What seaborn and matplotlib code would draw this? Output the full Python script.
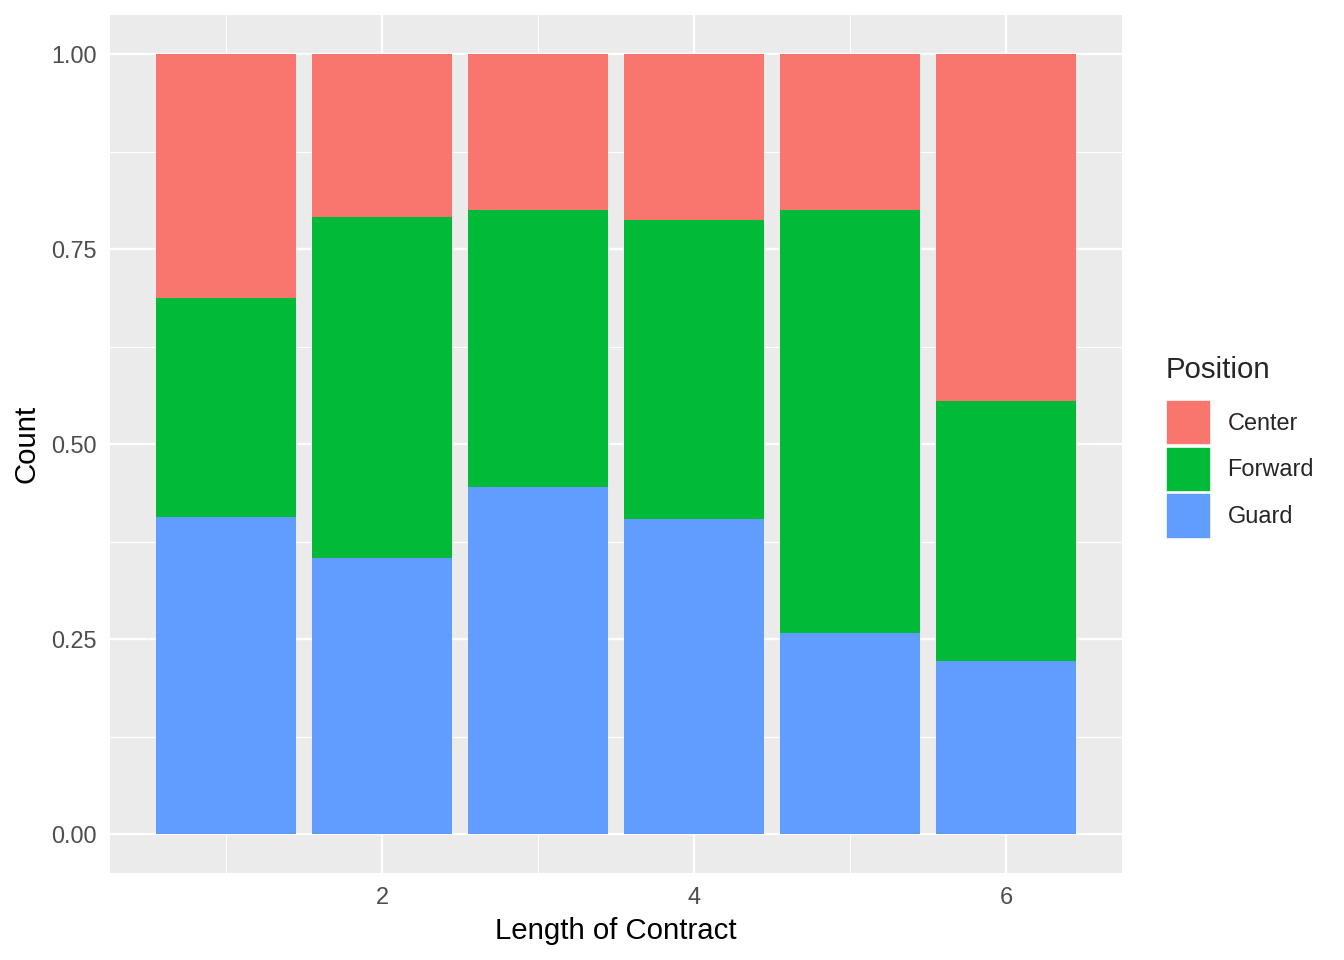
import matplotlib
matplotlib.use("Agg")
import matplotlib.pyplot as plt
import numpy as np
import pandas as pd
import seaborn as sns
from matplotlib.patches import Patch

# contract length (years) and player counts per position
years = [1, 2, 3, 4, 5, 6]
positions = ["Center", "Forward", "Guard"]
center = [10, 10, 9, 10, 7, 4]
forward = [9, 21, 16, 18, 19, 3]
guard = [13, 17, 20, 19, 9, 2]
colors = ["#F8766D", "#00BA38", "#619CFF"]

rows = []
for pos, vals in zip(positions, [center, forward, guard]):
    for y, v in zip(years, vals):
        rows.append({"Length": y, "Position": pos, "Count": v})
df = pd.DataFrame(rows)

sns.set_style("darkgrid", {"axes.facecolor": "#EBEBEB", "grid.color": "white"})
plt.rcParams["font.family"] = ["Liberation Sans", "DejaVu Sans"]

fig = plt.figure(figsize=(7, 5), dpi=192)
ax = fig.add_axes([110 / 1344, 87 / 960, 1012 / 1344, 858 / 960])

sns.histplot(data=df, x="Length", hue="Position", weights="Count",
             hue_order=positions, palette=colors, multiple="fill",
             discrete=True, shrink=0.9, linewidth=0, alpha=1,
             legend=False, ax=ax)

ax.set_xlim(0.255, 6.745)
ax.set_ylim(-0.05, 1.05)
ax.set_xticks([2, 4, 6])
ax.set_xticks([1, 3, 5], minor=True)
ax.set_yticks([0, 0.25, 0.5, 0.75, 1.0])
ax.set_yticklabels(["0.00", "0.25", "0.50", "0.75", "1.00"])
ax.set_yticks([0.125, 0.375, 0.625, 0.875], minor=True)
ax.grid(which="major", color="white", linewidth=0.9)
ax.grid(which="minor", color="white", linewidth=0.45)
ax.set_axisbelow(True)
for s in ax.spines.values():
    s.set_visible(False)
ax.tick_params(which="major", length=2.75, width=0.5, color="#333333",
               labelsize=8.8, labelcolor="#4D4D4D", pad=2.2)
ax.tick_params(which="minor", length=0)
ax.set_xlabel("Length of Contract", fontsize=11, color="black", labelpad=3)
ax.set_ylabel("Count", fontsize=11, color="black", labelpad=4)

handles = [Patch(facecolor=c, edgecolor="white", linewidth=0.6) for c in colors]
leg = fig.legend(handles, positions, title="Position", loc="upper left",
                 bbox_to_anchor=(1166 / 1344, 1 - 356 / 960), frameon=False,
                 fontsize=8.8, title_fontsize=11, handlelength=1.9,
                 handleheight=2.6, handletextpad=0.72, labelspacing=0.05,
                 borderaxespad=0, borderpad=0)
leg._legend_box.align = "left"
leg._legend_box.sep = 6

fig.savefig("out.png", dpi=192)
